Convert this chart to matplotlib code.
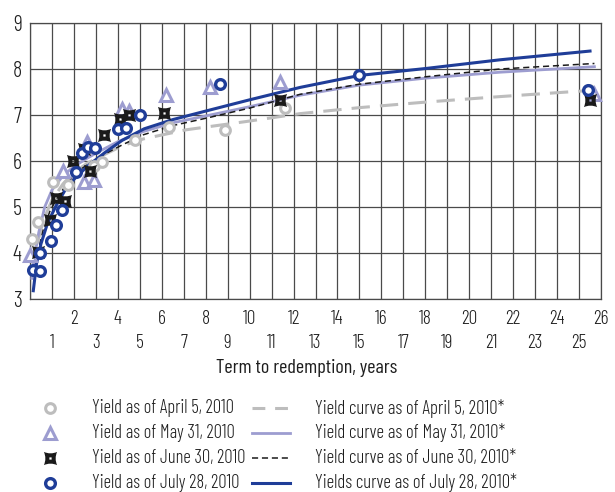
import numpy as np
import matplotlib.pyplot as plt
from matplotlib.lines import Line2D
from matplotlib.path import Path

plt.rcParams['font.family'] = ['Barlow Condensed', 'DejaVu Sans']
plt.rcParams['font.weight'] = 300

# ---- observed yields (term in years, yield %) ----
apr_x = [0.08, 0.35, 1.05, 1.75, 2.9, 3.3, 4.8, 6.35, 8.9, 11.6, 25.45]
apr_y = [4.30, 4.68, 5.55, 5.48, 5.9, 5.97, 6.45, 6.75, 6.67, 7.15, 7.55]

may_x = [0.0, 1.5, 2.45, 2.6, 2.9, 4.2, 4.5, 6.2, 8.2, 11.4, 25.7]
may_y = [3.95, 5.78, 5.55, 6.42, 5.58, 7.12, 7.08, 7.43, 7.6, 7.72, 7.45]

jun_x = [0.38, 0.9, 1.2, 1.6, 1.95, 2.45, 2.75, 3.35, 4.1, 4.5, 6.1, 11.4, 25.5]
jun_y = [4.03, 4.72, 5.2, 5.12, 6.0, 6.27, 5.78, 6.57, 6.92, 7.0, 7.05, 7.33, 7.33]

jul_x = [0.15, 0.45, 0.45, 0.95, 1.2, 1.45, 2.1, 2.35, 2.65, 2.95, 4.0, 4.35, 5.0, 8.65, 15.0, 25.4]
jul_y = [3.62, 3.6, 4.0, 4.27, 4.6, 4.93, 5.77, 6.18, 6.3, 6.28, 6.7, 6.72, 7.0, 7.67, 7.88, 7.54]

# ---- fitted yield curves ----
apr_cx = [0.1, 0.3, 0.6, 1.0, 1.5, 2.0, 2.6, 3.3, 4.25, 5.16, 7.13, 9.87, 12.3, 15, 18, 21.4, 25.7]
apr_cy = [3.6, 4.15, 4.7, 5.15, 5.5, 5.75, 5.95, 6.12, 6.34, 6.48, 6.68, 6.86, 7.03, 7.16, 7.28, 7.4, 7.54]

may_cx = [0.08, 0.2, 0.4, 0.67, 1.0, 1.5, 2.0, 2.6, 3.2, 4.0, 5.16, 6.5, 8.2, 10, 12.3, 15, 18, 21.4, 25.7]
may_cy = [3.45, 3.9, 4.45, 5.0, 5.37, 5.68, 5.88, 6.06, 6.22, 6.42, 6.64, 6.83, 7.0, 7.18, 7.43, 7.65, 7.8, 7.93, 8.05]

jun_cx = [0.25, 0.4, 0.6, 0.9, 1.3, 1.8, 2.4, 3.2, 4.2, 5.16, 6.5, 8.2, 10, 12.3, 15, 18, 21.4, 25.7]
jun_cy = [3.75, 4.1, 4.5, 4.9, 5.25, 5.58, 5.85, 6.1, 6.35, 6.57, 6.77, 6.95, 7.15, 7.45, 7.67, 7.83, 8.0, 8.12]

jul_cx = [0.15, 0.3, 0.5, 0.8, 1.2, 1.6, 2.0, 2.6, 3.4, 4.2, 5.2, 6.5, 8.2, 10, 12.3, 15, 18, 21.4, 25.5]
jul_cy = [3.18, 3.78, 4.2, 4.65, 5.04, 5.37, 5.6, 5.88, 6.18, 6.45, 6.7, 6.9, 7.11, 7.33, 7.6, 7.86, 8.01, 8.2, 8.39]

point_labels = ['Yield as of April 5, 2010', 'Yield as of May 31, 2010',
                'Yield as of June 30, 2010', 'Yield as of July 28, 2010']
curve_labels = ['Yield curve as of April 5, 2010*', 'Yield curve as of May 31, 2010*',
                'Yield curve as of June 30, 2010*', 'Yields curve as of July 28, 2010*']

GRAY = '#bdbdbd'
LAV = '#9d9dd0'
BLACK = '#1a1a1a'
NAVY = '#1f3d98'
TXT = '#1e1e1e'

# concave square marker with a small hole (June points)
c = 0.55
star = Path(
    [(-1, -1), (0, -c), (1, -1), (c, 0), (1, 1), (0, c), (-1, 1), (-c, 0), (-1, -1), (-1, -1),
     (-0.17, -0.17), (-0.17, 0.17), (0.17, 0.17), (0.17, -0.17), (-0.17, -0.17)],
    [Path.MOVETO, Path.CURVE3, Path.CURVE3, Path.CURVE3, Path.CURVE3, Path.CURVE3, Path.CURVE3,
     Path.CURVE3, Path.CURVE3, Path.CLOSEPOLY,
     Path.MOVETO, Path.LINETO, Path.LINETO, Path.LINETO, Path.CLOSEPOLY])

pt_style = [
    dict(marker='o', ms=7, mew=2.2, mec=GRAY, mfc='white'),
    dict(marker='^', ms=9, mew=2.2, mec=LAV, mfc='white'),
    dict(marker=star, ms=9.5, mew=0, mec=BLACK, mfc=BLACK),
    dict(marker='o', ms=7, mew=2.4, mec=NAVY, mfc='white'),
]
ln_style = [
    dict(color=GRAY, lw=2.2, dashes=(6, 3.3)),
    dict(color=LAV, lw=2.0),
    dict(color=BLACK, lw=1.1, dashes=(4, 2.5)),
    dict(color=NAVY, lw=2.2),
]
legend_dashes = [(4.2, 3.2), None, (4, 2.5), None]

fig = plt.figure(figsize=(6.15, 4.92), dpi=100)
ax = fig.add_axes([30 / 615, 1 - 299 / 492, 571 / 615, 276 / 492])

curves = [(apr_cx, apr_cy), (may_cx, may_cy), (jun_cx, jun_cy), (jul_cx, jul_cy)]
points = [(apr_x, apr_y), (may_x, may_y), (jun_x, jun_y), (jul_x, jul_y)]
for (cx, cy), st in zip(curves, ln_style):
    ax.plot(cx, cy, zorder=3, **st)
for (px, py), st in zip(points, pt_style):
    ax.plot(px, py, ls='none', zorder=4, clip_on=False, **st)

ax.set_xlim(0, 26)
ax.set_ylim(3, 9)
ax.set_xticks(np.arange(0, 27, 2))
ax.set_xticklabels([''] + [str(v) for v in range(2, 27, 2)])
ax.set_xticks(np.arange(1, 26, 2), minor=True)
ax.set_xticklabels([str(v) for v in range(1, 26, 2)], minor=True)
ax.set_yticks(range(3, 10))
ax.tick_params(axis='x', which='major', length=0, pad=8, labelsize=14, colors=TXT)
ax.tick_params(axis='x', which='minor', length=0, pad=25, labelsize=14, colors=TXT)
ax.tick_params(axis='y', length=0, pad=6, labelsize=16, colors=TXT)
ax.grid(True, which='both', color='#4a4a4a', lw=0.9)
ax.set_axisbelow(True)
for s in ax.spines.values():
    s.set_color('#4a4a4a')
    s.set_linewidth(0.9)

ax.set_xlabel('Term to redemption, years', fontsize=14.5, color=TXT)
ax.xaxis.set_label_coords((307 - 30) / 571, (299 - 359) / 276)

# legend, drawn by hand in figure pixels
rows = [408, 433, 458, 483]
for i, r in enumerate(rows):
    yf = 1 - r / 492
    fig.add_artist(Line2D([50 / 615], [yf], ls='none', transform=fig.transFigure, **pt_style[i]))
    fig.text(92 / 615, yf, point_labels[i], fontsize=13.4, va='center', color=TXT)
    st = dict(ln_style[i])
    if legend_dashes[i] is not None:
        st['dashes'] = legend_dashes[i]
    fig.add_artist(Line2D([252 / 615, 290 / 615], [yf, yf], transform=fig.transFigure, **st))
    fig.text(315 / 615, yf, curve_labels[i], fontsize=13.6, va='center', color=TXT)

fig.savefig('out.png', dpi=100)
